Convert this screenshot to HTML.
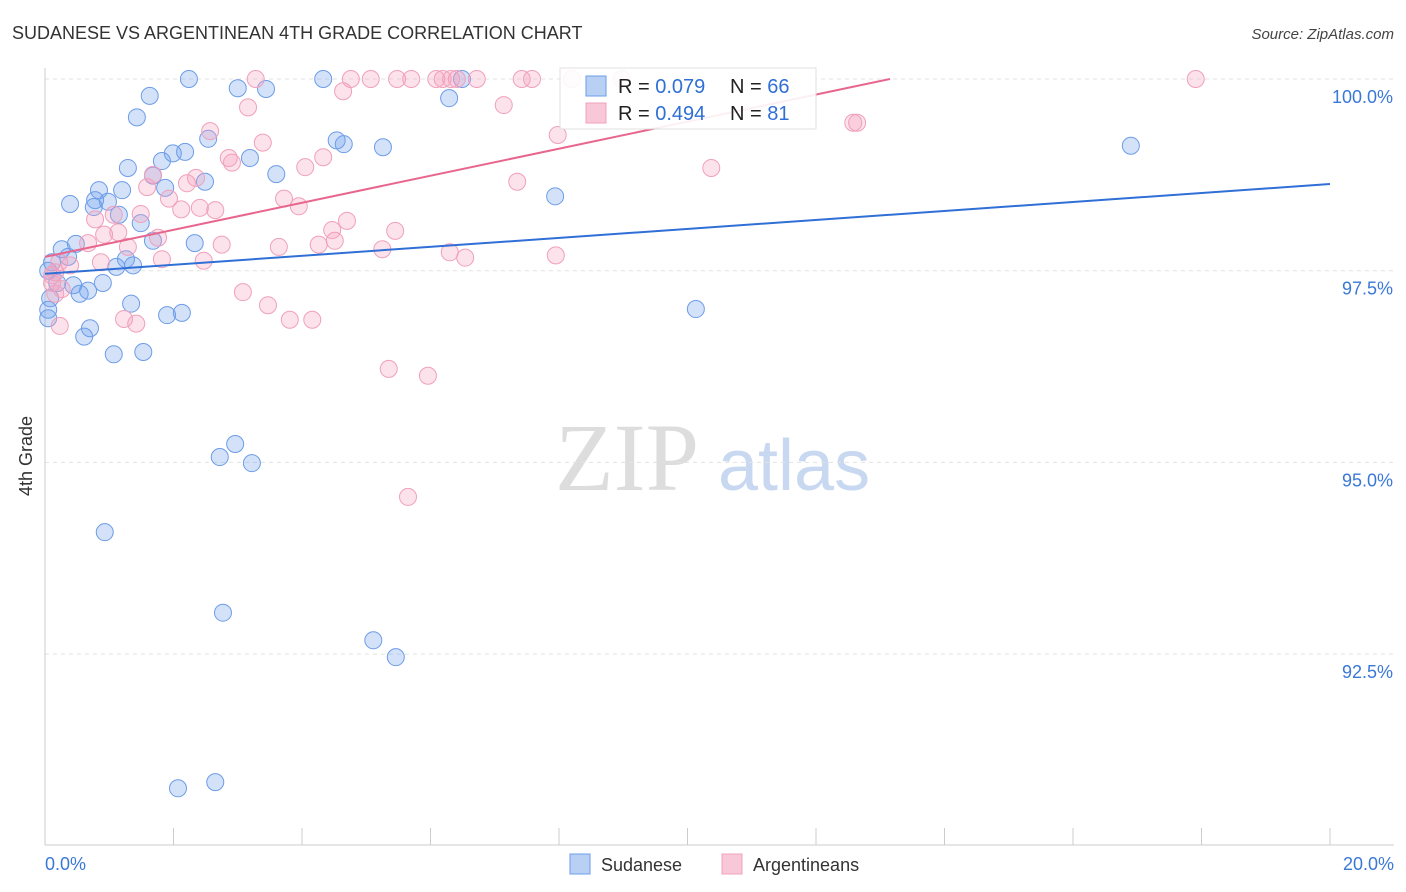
<!DOCTYPE html>
<html><head><meta charset="utf-8">
<style>
body{margin:0;background:#fff;font-family:"Liberation Sans",sans-serif;}
#wrap{position:relative;width:1406px;height:892px;overflow:hidden;}
</style></head>
<body>
<div id="wrap">
<svg id="chart" width="1406" height="892">
<text x="12" y="39" font-size="18" fill="#333">SUDANESE VS ARGENTINEAN 4TH GRADE CORRELATION CHART</text>
<text x="1394" y="39" font-size="15" fill="#444" text-anchor="end" font-style="italic">Source: ZipAtlas.com</text>
<text x="32" y="456" font-size="18" fill="#333" text-anchor="middle" transform="rotate(-90 32 456)">4th Grade</text>
<g>
<text x="555" y="490" font-size="96" fill="#ddd" font-family="Liberation Serif,serif">ZIP</text>
<text x="718" y="490" font-size="72" fill="#c8d8f0">atlas</text>
</g>
<g id="grid"></g><g id="axes"></g><g id="pts"></g><g id="lines"></g>
<g>
<rect x="560" y="68" width="256" height="61" fill="#fff" stroke="#ddd" opacity="0.9"/>
<rect x="586" y="76" width="20" height="20" fill="#b8d0f4" stroke="#6d9ce8"/>
<text x="618" y="93" font-size="20" fill="#222">R = <tspan fill="#2f6fd6">0.079</tspan></text>
<text x="730" y="93" font-size="20" fill="#222">N = <tspan fill="#2f6fd6">66</tspan></text>
<rect x="586" y="103" width="20" height="20" fill="#f8c8d8" stroke="#f0a0bc"/>
<text x="618" y="120" font-size="20" fill="#222">R = <tspan fill="#2f6fd6">0.494</tspan></text>
<text x="730" y="120" font-size="20" fill="#222">N = <tspan fill="#2f6fd6"> 81</tspan></text>
</g>
<g>
<rect x="570" y="854" width="20" height="20" fill="#b8d0f4" stroke="#6d9ce8"/>
<text x="601" y="871" font-size="18" fill="#333">Sudanese</text>
<rect x="722" y="854" width="20" height="20" fill="#f8c8d8" stroke="#f0a0bc"/>
<text x="753" y="871" font-size="18" fill="#333">Argentineans</text>
</g>
</svg>
</div>
<script>
const yTicks=[100,97.5,95,92.5];
const yTickLabels=["100.0%","97.5%","95.0%","92.5%"];
const xTicks=[0,2,4,6,8,10,12,14,16,18,20];
const xTickLabels=["0.0%","20.0%"];
const blueX=[2.24,4.33,6.49,1.63,3.00,3.44,6.29,1.43,2.54,4.54,4.65,5.26,16.90,1.99,2.18,1.82,3.19,1.29,3.60,1.68,2.49,0.84,1.20,1.87,7.94,0.39,0.76,0.78,0.98,1.15,1.49,0.26,0.48,1.68,2.33,0.36,1.26,1.11,1.37,0.11,0.05,0.19,0.44,0.67,0.90,0.54,0.08,1.34,1.90,2.13,10.13,0.05,0.70,0.61,1.07,1.53,2.96,2.72,3.22,0.93,2.77,5.11,5.46,2.07,2.65,0.05];
const blueY=[100,100,100,99.78,99.88,99.87,99.75,99.50,99.22,99.20,99.15,99.11,99.13,99.03,99.05,98.93,98.97,98.84,98.76,98.74,98.66,98.55,98.55,98.58,98.47,98.37,98.33,98.42,98.40,98.23,98.12,97.78,97.85,97.89,97.86,97.68,97.65,97.55,97.57,97.61,97.50,97.34,97.31,97.24,97.34,97.20,97.14,97.07,96.92,96.95,97.00,96.88,96.75,96.64,96.41,96.44,95.24,95.07,94.99,94.09,93.04,92.68,92.46,90.75,90.83,96.99];
const pinkX=[3.28,4.76,5.07,5.48,5.70,6.09,6.19,6.32,6.41,6.72,7.42,7.58,8.20,8.98,17.91,4.64,7.14,3.16,2.57,3.39,7.98,12.58,12.64,2.86,2.91,4.33,4.05,10.37,1.68,2.21,2.35,1.59,1.93,3.72,3.95,2.12,2.41,2.65,4.70,0.78,1.07,1.49,7.35,5.45,4.47,0.92,1.14,1.76,0.67,1.29,2.75,3.64,4.26,4.51,5.25,6.30,6.54,7.95,1.82,2.47,0.22,0.39,0.87,0.11,0.16,0.26,0.16,3.08,3.47,3.81,4.16,1.23,1.42,0.23,5.35,5.96,5.65,0.11];
const pinkY=[100,100,100,100,100,100,100,100,100,100,100,100,100,100,100,99.84,99.66,99.63,99.32,99.17,99.27,99.43,99.43,98.97,98.91,98.98,98.85,98.84,98.75,98.64,98.71,98.59,98.44,98.44,98.34,98.30,98.32,98.29,98.15,98.17,98.23,98.24,98.66,98.02,98.03,97.97,98.00,97.93,97.86,97.81,97.84,97.81,97.84,97.89,97.78,97.74,97.67,97.70,97.65,97.63,97.61,97.57,97.61,97.44,97.48,97.26,97.20,97.22,97.05,96.86,96.86,96.87,96.81,96.78,96.22,96.13,94.55,97.34];
const blueTrend=[97.46,98.63];
const pinkTrend=[97.68,0.1764];
const NS="http://www.w3.org/2000/svg";
const xS=v=>45+v/20*1285;
const yS=v=>79+(100-v)/2.5*191.7;
function mk(tag,attrs,parent){const e=document.createElementNS(NS,tag);for(const k in attrs)e.setAttribute(k,attrs[k]);parent.appendChild(e);return e;}
const grid=document.getElementById('grid'),axes=document.getElementById('axes'),pts=document.getElementById('pts'),lines=document.getElementById('lines');
yTicks.forEach((t,i)=>{
 const l=mk('line',{x1:45,x2:1394,y1:yS(t),y2:yS(t),stroke:'#e2e2e2','stroke-dasharray':'4,4'},grid);
 
 
 const tx=mk('text',{x:1393,y:yS(t)+24,'font-size':18,fill:'#3a78d8','text-anchor':'end'},axes);
 tx.textContent=yTickLabels[i];
 
 
});
const ya=mk('line',{x1:45,x2:45,y1:68,y2:845,stroke:'#ccc'},axes);


const xa=mk('line',{x1:45,x2:1394,y1:845,y2:845,stroke:'#ccc'},axes);


xTicks.forEach(t=>{
 const l=mk('line',{x1:xS(t),x2:xS(t),y1:828,y2:845,stroke:'#ccc'},axes);
 
 
});
const xl0=mk('text',{x:45,y:870,'font-size':18,fill:'#3a78d8'},axes);xl0.textContent=xTickLabels[0];


const xl1=mk('text',{x:1394,y:870,'font-size':18,fill:'#3a78d8','text-anchor':'end'},axes);xl1.textContent=xTickLabels[1];


blueX.forEach((x,i)=>{
 const c=mk('circle',{cx:xS(x),cy:yS(blueY[i]),r:8.5,fill:'rgba(110,160,235,0.3)',stroke:'#6d9ce8','stroke-width':1},pts);
 
 
});
pinkX.forEach((x,i)=>{
 const c=mk('circle',{cx:xS(x),cy:yS(pinkY[i]),r:8.5,fill:'rgba(245,160,190,0.3)',stroke:'#f0a0bc','stroke-width':1},pts);
 
 
});
const bl=mk('line',{x1:xS(0),y1:yS(blueTrend[0]),x2:xS(20),y2:yS(blueTrend[1]),stroke:'#2f6fd6','stroke-width':2},lines);


const pxEnd=(100-pinkTrend[0])/pinkTrend[1];
const pl=mk('line',{x1:xS(0),y1:yS(pinkTrend[0]),x2:xS(pxEnd),y2:yS(100),stroke:'#e8668e','stroke-width':2},lines);


</script>
</body></html>
